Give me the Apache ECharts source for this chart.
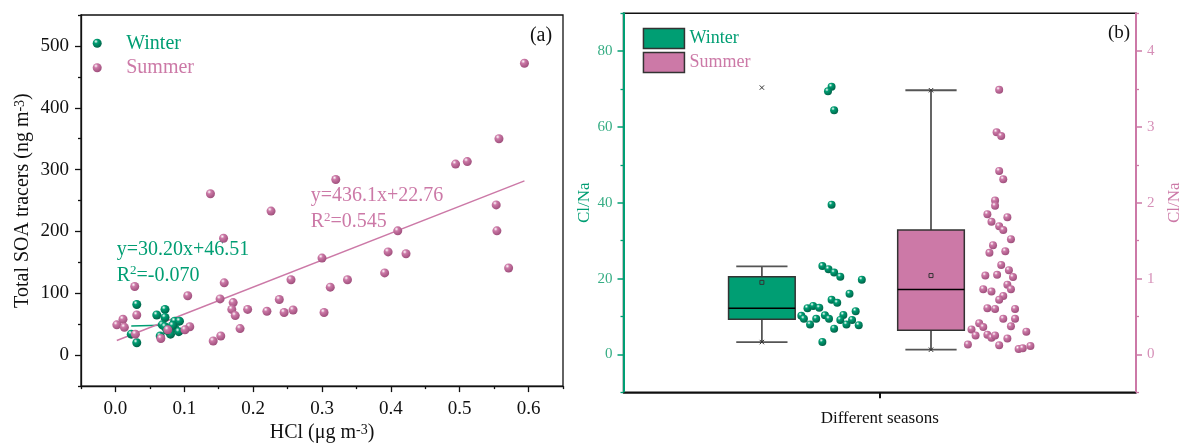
<!DOCTYPE html>
<html>
<head>
<meta charset="utf-8">
<script src="https://cdn.jsdelivr.net/npm/echarts@6/dist/echarts.min.js"></script>
<style>
  html, body { margin: 0; background: #fff; }
  #chart { width: 1184px; height: 448px; }
</style>
</head>
<body>
<div id="chart"></div>
<script>
// panel (a): HCl vs total SOA tracers
const winterHCl = [0.031, 0.060, 0.072, 0.072, 0.068, 0.072, 0.086, 0.093, 0.086, 0.092, 0.080, 0.065, 0.023, 0.031, 0.075, 0.083];
const winterSOA = [82, 65, 74, 61, 49, 46, 55, 55, 44, 38, 34, 31, 34, 20, 40, 48];
const summerHCl = [0.594, 0.557, 0.494, 0.511, 0.320, 0.138, 0.226, 0.553, 0.554, 0.410, 0.157, 0.396, 0.422, 0.300, 0.571,
  0.391, 0.337, 0.255, 0.312, 0.158, 0.028, 0.105, 0.152, 0.238, 0.171, 0.169, 0.192, 0.220, 0.258, 0.245, 0.303, 0.174,
  0.031, 0.011, 0.002, 0.013, 0.181, 0.108, 0.101, 0.076, 0.029, 0.066, 0.153, 0.142];
const summerSOA = [472, 350, 309, 313, 284, 261, 233, 243, 201, 201, 189, 167, 164, 157, 141,
  133, 122, 122, 110, 117, 111, 96, 91, 90, 85, 74, 74, 71, 73, 69, 69, 64,
  65, 58, 49, 45, 43, 46, 41, 41, 34, 27, 31, 23];
const winterFit = [30.20, 46.51];   // slope, intercept
const summerFit = [436.1, 22.76];

const hclTicks = [0, 0.1, 0.2, 0.3, 0.4, 0.5, 0.6];
const hclMinor = [-0.05, 0.05, 0.15, 0.25, 0.35, 0.45, 0.55, 0.65];
const soaTicks = [0, 100, 200, 300, 400, 500];
const soaMinor = [-50, 50, 150, 250, 350, 450, 550];

// panel (b): Cl/Na by season
const winterRatio = [70.6, 69.4, 64.4, 39.5, 23.3, 22.5, 21.6, 20.5, 19.7, 16.0, 14.4, 13.6, 12.2, 12.8, 12.3,
  10.2, 9.4, 7.9, 9.4, 10.3, 9.4, 10.4, 9.1, 7.9, 9.1, 11.4, 7.7, 6.8, 3.3];
const winterJitter = [4.06, 3.99, 4.11, 4.06, 3.88, 4.00, 4.11, 4.23, 4.65, 4.41, 4.06, 4.17, 3.59, 3.70, 3.82,
  3.47, 3.52, 3.64, 3.76, 3.93, 4.01, 4.29, 4.23, 4.35, 4.46, 4.53, 4.59, 4.11, 3.88];
const summerRatio = [3.49, 2.93, 2.88, 2.42, 2.31, 2.03, 1.96, 1.85, 1.81, 1.75, 1.69, 1.64, 1.52, 1.44, 1.34, 1.36,
  1.18, 1.11, 1.04, 1.05, 1.02, 0.92, 0.86, 0.86, 0.83, 0.77, 0.72, 0.61, 0.60, 0.60, 0.47, 0.47, 0.37, 0.41,
  0.36, 0.33, 0.25, 0.26, 0.22, 0.25, 0.21, 0.30, 0.13, 0.12, 0.07, 0.08, 0.11];
const summerJitter = [7.33, 7.28, 7.37, 7.33, 7.41, 7.25, 7.25, 7.10, 7.49, 7.18, 7.33, 7.41, 7.56, 7.21, 7.14, 7.45,
  7.37, 7.52, 7.06, 7.29, 7.60, 7.49, 7.56, 7.02, 7.18, 7.41, 7.33, 7.10, 7.25, 7.64, 7.41, 7.64, 7.56, 6.94,
  7.02, 6.79, 6.87, 7.10, 7.18, 7.25, 7.49, 7.86, 6.72, 7.33, 7.71, 7.79, 7.94];
// lower whisker, Q1, median, Q3, upper whisker, mean, min, max
const winterBox = [3.25, 9.25, 12.2, 20.5, 23.2, 19.0, 3.25, 70.4];
const summerBox = [0.062, 0.317, 0.855, 1.64, 3.485, 1.04, 0.062, 3.485];

const ratioTicks = [0, 20, 40, 60, 80];
const ratioMinor = [-10, 10, 30, 50, 70, 90];
const rightTicks = [0, 1, 2, 3, 4];
const rightMinor = [-0.5, 0.5, 1.5, 2.5, 3.5, 4.5];

const green = '#009e73';
const pink = '#cc79a7';
const ink = '#111';
const fontFamily = '"Liberation Serif", "Times New Roman", serif';
const boxCenters = [2.7, 6.0];
const boxWidth = 1.3;
const capWidth = 1.0;

function ball(base, dark) {
  return {
    type: 'radial', x: 0.36, y: 0.3, r: 0.75,
    colorStops: [
      { offset: 0, color: '#ffffff' },
      { offset: 0.3, color: base },
      { offset: 1, color: dark },
    ],
  };
}

function zip(xs, ys) {
  return xs.map((x, i) => [x, ys[i]]);
}

function fitLine(xs, fit) {
  const lo = Math.min(...xs);
  const hi = Math.max(...xs);
  return [[lo, fit[0] * lo + fit[1]], [hi, fit[0] * hi + fit[1]]];
}

function renderBox(params, api) {
  const x = api.value(0);
  const p = i => api.coord([x, api.value(i)]);
  const low = p(1), q1 = p(2), med = p(3), q3 = p(4), high = p(5), mean = p(6), minP = p(7), maxP = p(8);
  const half = api.size([boxWidth, 0])[0] / 2;
  const capHalf = api.size([capWidth, 0])[0] / 2;
  const whisker = { stroke: '#555', lineWidth: 1.8 };
  const line = (x1, y1, x2, y2, style) => ({ type: 'line', shape: { x1, y1, x2, y2 }, style });
  const cross = c => [
    line(c[0] - 2.2, c[1] - 2.2, c[0] + 2.2, c[1] + 2.2, { stroke: '#333', lineWidth: 1 }),
    line(c[0] - 2.2, c[1] + 2.2, c[0] + 2.2, c[1] - 2.2, { stroke: '#333', lineWidth: 1 }),
  ];
  return {
    type: 'group',
    children: [
      line(low[0], low[1], q1[0], q1[1], whisker),
      line(q3[0], q3[1], high[0], high[1], whisker),
      line(low[0] - capHalf, low[1], low[0] + capHalf, low[1], whisker),
      line(high[0] - capHalf, high[1], high[0] + capHalf, high[1], whisker),
      {
        type: 'rect',
        shape: { x: q3[0] - half, y: q3[1], width: half * 2, height: q1[1] - q3[1] },
        style: { fill: api.visual('color'), stroke: '#333', lineWidth: 1.5 },
      },
      line(med[0] - half, med[1], med[0] + half, med[1], { stroke: '#000', lineWidth: 1.5 }),
      {
        type: 'rect',
        shape: { x: mean[0] - 2, y: mean[1] - 2, width: 4, height: 4 },
        style: { fill: 'none', stroke: '#333', lineWidth: 1 },
      },
      ...cross(minP),
      ...cross(maxP),
    ],
  };
}

const chart = echarts.init(document.getElementById('chart'));

const supRich = size => ({
  n: { fontSize: size, fontFamily, color: ink },
  s: { fontSize: Math.round(size * 0.7), fontFamily, color: ink, verticalAlign: 'top' },
});

const noSplit = { show: false };

// overlay axis that only draws the short minor ticks
function minorAxis(gridIndex, min, max, values, color, position) {
  return {
    gridIndex, type: 'value', min, max, position,
    axisLine: { show: false, onZero: false },
    axisTick: { customValues: values, length: 3, lineStyle: { color, width: 1.3 } },
    axisLabel: { show: false },
    splitLine: noSplit,
  };
}

chart.setOption({
  animation: false,
  backgroundColor: '#fff',
  grid: [
    { left: 81, top: 15, width: 482, height: 374, show: true, borderColor: ink, borderWidth: 1.3 },
    { left: 623.5, top: 13.3, width: 517.5, height: 379, show: true, borderColor: ink, borderWidth: 1.5 },
  ],
  xAxis: [
    {
      gridIndex: 0, type: 'value', min: -0.05, max: 0.65,
      name: '{n|HCl (μg m}{s|-3}{n|)}', nameLocation: 'middle', nameGap: 36,
      nameTextStyle: { rich: supRich(20) },
      axisLine: { onZero: false, lineStyle: { color: ink, width: 1.3 } },
      axisTick: { customValues: hclTicks, length: 6, lineStyle: { color: ink, width: 1.3 } },
      axisLabel: { customValues: hclTicks, margin: 13, formatter: v => v.toFixed(1), fontSize: 19, fontFamily, color: ink },
      splitLine: noSplit,
    },
    minorAxis(0, -0.05, 0.65, hclMinor, ink, 'bottom'),
    {
      gridIndex: 1, type: 'value', min: 0, max: 10,
      name: 'Different seasons', nameLocation: 'middle', nameGap: 18,
      nameTextStyle: { fontSize: 17, fontFamily, color: ink },
      axisLine: { onZero: false, lineStyle: { color: ink, width: 1.5 } },
      axisTick: { customValues: [5], length: 6, lineStyle: { color: ink, width: 2 } },
      axisLabel: { show: false },
      splitLine: noSplit,
    },
  ],
  yAxis: [
    {
      gridIndex: 0, type: 'value', min: -50, max: 550,
      name: '{n|Total SOA tracers (ng m}{s|-3}{n|)}', nameLocation: 'middle', nameGap: 48,
      nameTextStyle: { rich: supRich(20) },
      axisLine: { onZero: false, lineStyle: { color: ink, width: 1.3 } },
      axisTick: { customValues: soaTicks, length: 6, lineStyle: { color: ink, width: 1.3 } },
      axisLabel: { customValues: soaTicks, margin: 12, fontSize: 19, fontFamily, color: ink },
      splitLine: noSplit,
    },
    minorAxis(0, -50, 550, soaMinor, ink, 'left'),
    {
      gridIndex: 1, type: 'value', position: 'left', min: -10, max: 90,
      name: 'Cl/Na', nameLocation: 'middle', nameGap: 30,
      nameTextStyle: { fontSize: 17, fontFamily, color: green },
      axisLine: { onZero: false, lineStyle: { color: green, width: 2 } },
      axisTick: { customValues: ratioTicks, length: 6, lineStyle: { color: green, width: 1.5 } },
      axisLabel: { customValues: ratioTicks, margin: 11, fontSize: 15, fontFamily, color: '#36ad84' },
      splitLine: noSplit,
    },
    minorAxis(1, -10, 90, ratioMinor, green, 'left'),
    {
      gridIndex: 1, type: 'value', position: 'right', min: -0.5, max: 4.5,
      name: 'Cl/Na', nameLocation: 'middle', nameGap: 30,
      nameTextStyle: { fontSize: 17, fontFamily, color: pink },
      axisLine: { onZero: false, lineStyle: { color: pink, width: 2 } },
      axisTick: { customValues: rightTicks, length: 6, lineStyle: { color: pink, width: 1.5 } },
      axisLabel: { customValues: rightTicks, margin: 11, fontSize: 15, fontFamily, color: '#d690b8' },
      splitLine: noSplit,
    },
    minorAxis(1, -0.5, 4.5, rightMinor, pink, 'right'),
  ],
  legend: [
    {
      left: 92.7, top: 33.3, padding: 0, orient: 'vertical', icon: 'circle',
      itemWidth: 48, itemHeight: 9, itemGap: 4.4, selectedMode: false,
      textStyle: { fontSize: 20, fontFamily, lineHeight: 20 },
      data: [
        { name: 'Winter', textStyle: { color: green } },
        { name: 'Summer', textStyle: { color: pink } },
      ],
    },
    {
      left: 642.7, top: 27.7, padding: 0, orient: 'vertical', icon: 'rect',
      itemWidth: 41, itemHeight: 20, itemGap: 2.6, selectedMode: false,
      itemStyle: { borderColor: '#333', borderWidth: 1.5 },
      formatter: name => name.split(' ')[0],
      textStyle: { fontSize: 18, fontFamily },
      data: [
        { name: 'Winter box', textStyle: { color: green } },
        { name: 'Summer box', textStyle: { color: pink } },
      ],
    },
  ],
  graphic: [
    {
      type: 'text', x: 116.7, y: 249.3,
      style: { text: 'y=30.20x+46.51', font: '20px ' + fontFamily, fill: green, verticalAlign: 'middle' },
    },
    {
      type: 'text', x: 116.7, y: 275.3,
      style: {
        text: '{a|R}{s|2}{a|=-0.070}', verticalAlign: 'middle',
        rich: {
          a: { fontSize: 20, fontFamily, fill: green, lineHeight: 22 },
          s: { fontSize: 13, fontFamily, fill: green, verticalAlign: 'top', lineHeight: 13 },
        },
      },
    },
    {
      type: 'text', x: 310.7, y: 196,
      style: { text: 'y=436.1x+22.76', font: '20px ' + fontFamily, fill: pink, verticalAlign: 'middle' },
    },
    {
      type: 'text', x: 310.7, y: 221.7,
      style: {
        text: '{a|R}{s|2}{a|=0.545}', verticalAlign: 'middle',
        rich: {
          a: { fontSize: 20, fontFamily, fill: pink, lineHeight: 22 },
          s: { fontSize: 13, fontFamily, fill: pink, verticalAlign: 'top', lineHeight: 13 },
        },
      },
    },
    {
      type: 'text', x: 541, y: 36,
      style: { text: '(a)', font: '20px ' + fontFamily, fill: ink, align: 'center', verticalAlign: 'middle' },
    },
    {
      type: 'text', x: 1119, y: 33,
      style: { text: '(b)', font: '19px ' + fontFamily, fill: ink, align: 'center', verticalAlign: 'middle' },
    },
  ],
  series: [
    {
      name: 'Winter fit', type: 'line', xAxisIndex: 0, yAxisIndex: 0, z: 2,
      data: fitLine(winterHCl, winterFit), symbol: 'none', silent: true,
      lineStyle: { color: green, width: 1.5 },
    },
    {
      name: 'Summer fit', type: 'line', xAxisIndex: 0, yAxisIndex: 0, z: 2,
      data: fitLine(summerHCl, summerFit), symbol: 'none', silent: true,
      lineStyle: { color: pink, width: 1.5 },
    },
    {
      name: 'Winter', type: 'scatter', xAxisIndex: 0, yAxisIndex: 0, z: 3,
      data: zip(winterHCl, winterSOA), symbolSize: 9,
      itemStyle: { color: ball(green, '#005f45'), opacity: 1 },
    },
    {
      name: 'Summer', type: 'scatter', xAxisIndex: 0, yAxisIndex: 0, z: 4,
      data: zip(summerHCl, summerSOA), symbolSize: 9,
      itemStyle: { color: ball(pink, '#9c4c79'), opacity: 1 },
    },
    {
      name: 'Winter box', type: 'custom', xAxisIndex: 2, yAxisIndex: 2,
      renderItem: renderBox, itemStyle: { color: green },
      data: [[boxCenters[0], ...winterBox]],
    },
    {
      name: 'Summer box', type: 'custom', xAxisIndex: 2, yAxisIndex: 4,
      renderItem: renderBox, itemStyle: { color: pink },
      data: [[boxCenters[1], ...summerBox]],
    },
    {
      name: 'Winter Cl/Na', type: 'scatter', xAxisIndex: 2, yAxisIndex: 2, z: 3,
      data: zip(winterJitter, winterRatio), symbolSize: 8,
      itemStyle: { color: ball(green, '#005f45'), opacity: 1 },
    },
    {
      name: 'Summer Cl/Na', type: 'scatter', xAxisIndex: 2, yAxisIndex: 4, z: 3,
      data: zip(summerJitter, summerRatio), symbolSize: 8,
      itemStyle: { color: ball(pink, '#9c4c79'), opacity: 1 },
    },
  ],
});
</script>
</body>
</html>
